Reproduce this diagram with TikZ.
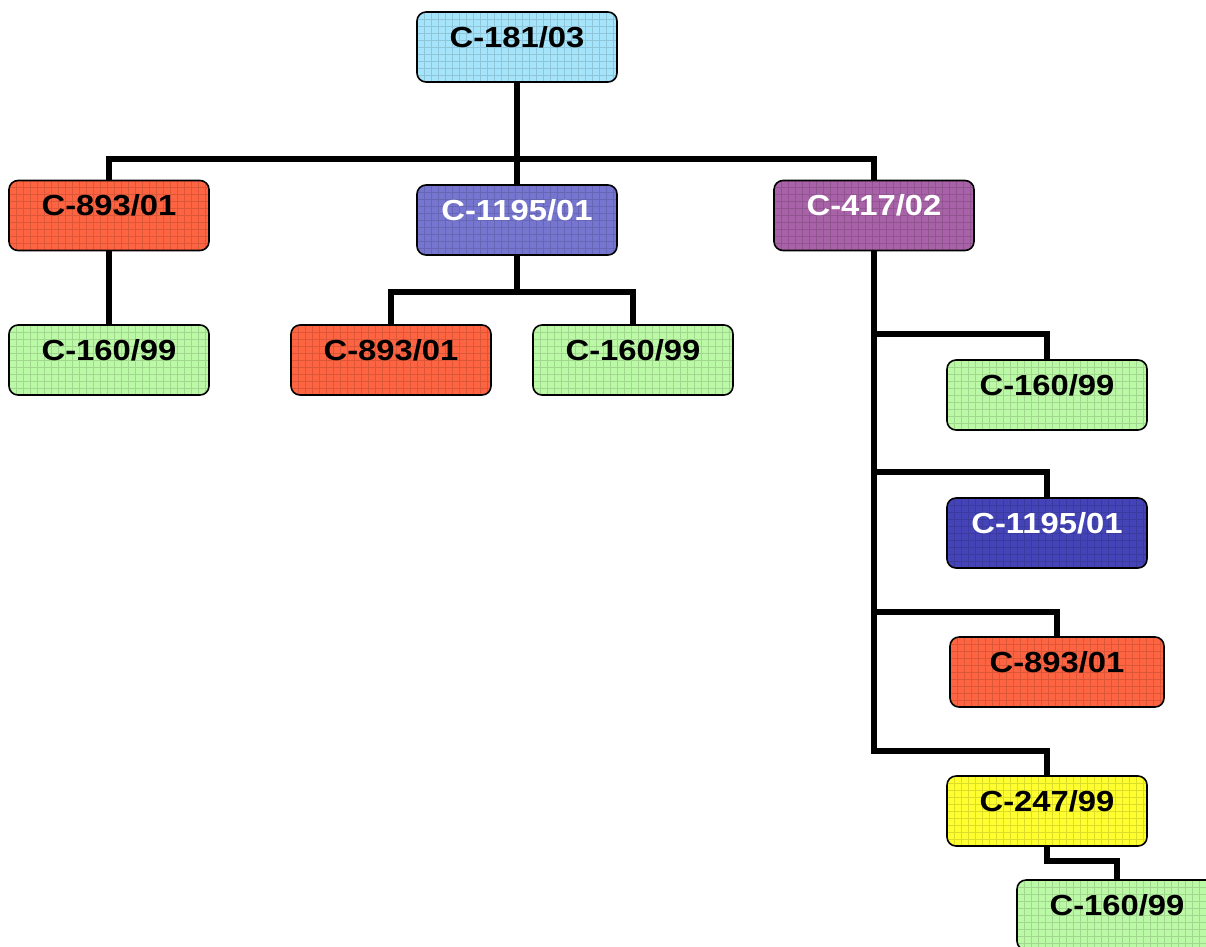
\documentclass[tikz,border=0pt]{standalone}
\usepackage{fontspec}
\setmainfont{Liberation Sans}[FakeStretch=1.13]
\usepackage{tikz}
\usetikzlibrary{positioning}

\definecolor{skyfill}{RGB}{166,228,252}
\definecolor{redfill}{RGB}{255,100,66}
\definecolor{violetfill}{RGB}{118,118,208}
\definecolor{plumfill}{RGB}{168,98,168}
\definecolor{greenfill}{RGB}{188,249,166}
\definecolor{navyfill}{RGB}{68,68,184}
\definecolor{yellowfill}{RGB}{255,255,48}

\begin{document}
\begin{tikzpicture}[x=1pt,y=-1pt,
  box/.style={draw,line width=1.6pt,rounded corners=9pt,fill=#1,inner sep=0pt,
              text width=200pt,align=center,text height=35pt,text depth=35pt,
              font=\bfseries\fontsize{29}{30}\selectfont,
              path picture={\draw[#1!70!black,opacity=0.45,line width=0.6pt,step=7pt]
                (path picture bounding box.south west) grid (path picture bounding box.north east);}},
  link/.style={draw,line width=5.5pt}]

\useasboundingbox (0,0) rectangle (1206,946);

% top level
\node[box=skyfill] (R) at (517,47) {C-181/03};

% second level
\node[box=redfill] (A1) at (109,215.5) {C-893/01};
\node[box=violetfill,text=white] (A2) at (517,220) {C-1195/01};
\node[box=plumfill,text=white] (A3) at (874,215.5) {C-417/02};

% third level
\node[box=greenfill] (B1) at (109,360) {C-160/99};
\node[box=redfill] (B2) at (391,360) {C-893/01};
\node[box=greenfill] (B3) at (633,360) {C-160/99};

% column under C-417/02
\node[box=greenfill] (C1) at (1047,395) {C-160/99};
\node[box=navyfill,text=white] (C2) at (1047,533) {C-1195/01};
\node[box=redfill,text width=214pt] (C3) at (1057,672) {C-893/01};
\node[box=yellowfill] (C4) at (1047,811) {C-247/99};
\node[box=greenfill] (C5) at (1117,915) {C-160/99};

\coordinate[below=76pt of R] (hub);
\coordinate[below=36pt of A2] (hubA);

\draw[link] (R) -- (A2);
\draw[link] (A1.north) |- (hub) -| (A3.north);
\draw[link] (A1) -- (B1);
\draw[link] (A2.south) -- (hubA);
\draw[link] (B2.north) |- (hubA) -| (B3.north);

\draw[link] (A3.south) |- ([yshift=25pt]C1.north) -- (C1.north);
\draw[link] (A3.south) |- ([yshift=25pt]C2.north) -- (C2.north);
\draw[link] (A3.south) |- ([yshift=24pt]C3.north) -- (C3.north);
\draw[link] (A3.south) |- ([yshift=24pt]C4.north) -- (C4.north);
\draw[link] (C4.south) |- ([yshift=18pt]C5.north) -- (C5.north);

\end{tikzpicture}
\end{document}
